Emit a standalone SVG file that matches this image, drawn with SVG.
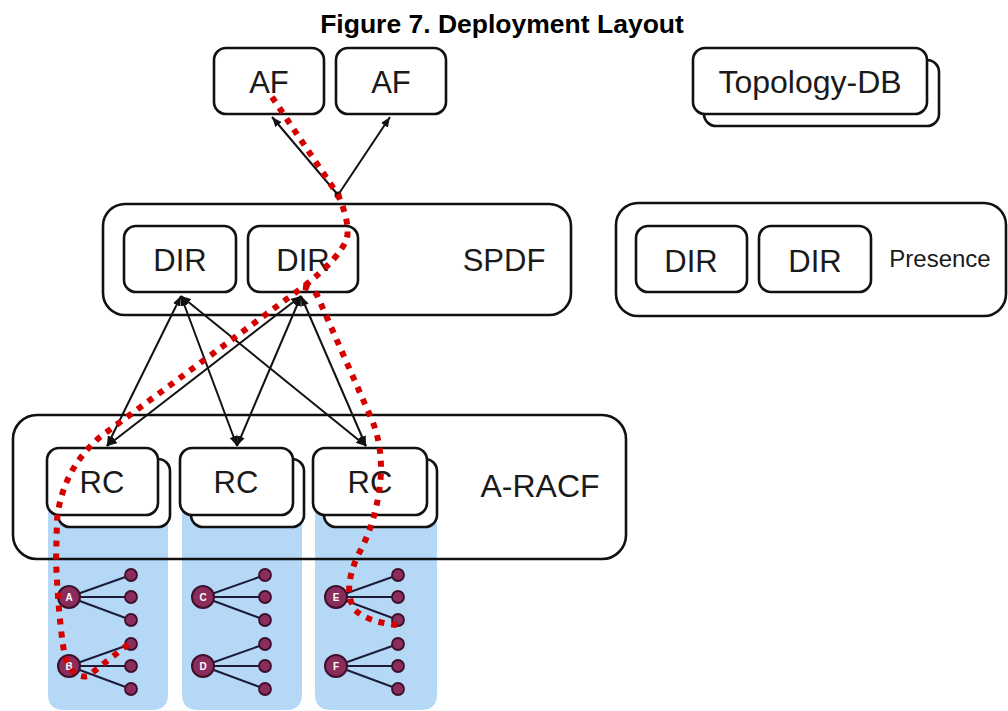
<svg xmlns="http://www.w3.org/2000/svg" width="1008" height="711" viewBox="0 0 1008 711">
  <defs>
    <style>
      .box { fill: #ffffff; stroke: #111111; stroke-width: 2.6; }
      .frame { fill: none; stroke: #111111; stroke-width: 2.6; }
      .lbl { font-family: "Liberation Sans", Arial, sans-serif; fill: #1a1a1a; text-anchor: middle; }
      .big { font-size: 31px; }
      .title { font-family: "Liberation Sans", Arial, sans-serif; font-weight: bold; font-size: 26.5px; fill: #000000; text-anchor: middle; }
      .lane { fill: #b5d8f6; }
      .edge { stroke: #1c1c38; stroke-width: 2; fill: none; }
      .root { fill: #8a2d5c; stroke: #3d0f2a; stroke-width: 2; }
      .leaf { fill: #8a2d5c; stroke: #3d0f2a; stroke-width: 1.8; }
      .tag { font-family: "Liberation Sans", Arial, sans-serif; font-weight: bold; font-size: 10px; fill: #ffffff; text-anchor: middle; }
      .link { stroke: #111111; stroke-width: 2; fill: none; }
      .route { stroke: #d40000; stroke-width: 6; fill: none; stroke-dasharray: 6 7; }
    </style>
    <marker id="head" viewBox="0 0 10 8" refX="10" refY="4" markerWidth="10" markerHeight="8" markerUnits="userSpaceOnUse" orient="auto-start-reverse">
      <path d="M0,0 L10,4 L0,8 z" fill="#111111"/>
    </marker>
    <!-- one subscriber tree: root at (0,0), three leaves to the right -->
    <g id="tree">
      <line class="edge" x1="0" y1="0" x2="62" y2="-22"/>
      <line class="edge" x1="0" y1="0" x2="62" y2="0"/>
      <line class="edge" x1="0" y1="0" x2="62" y2="23"/>
      <circle class="leaf" cx="62" cy="-22" r="6"/>
      <circle class="leaf" cx="62" cy="0" r="6"/>
      <circle class="leaf" cx="62" cy="23" r="6"/>
      <circle class="root" cx="0" cy="0" r="11"/>
    </g>
  </defs>

  <rect width="1008" height="711" fill="#ffffff"/>

  <text class="title" x="502" y="33">Figure 7. Deployment Layout</text>

  <!-- access lanes under the resource controllers -->
  <g id="lanes">
    <path class="lane" d="M48 470 H168 V694 Q168 710 152 710 H64 Q48 710 48 694 Z"/>
    <path class="lane" d="M182 470 H302 V694 Q302 710 286 710 H198 Q182 710 182 694 Z"/>
    <path class="lane" d="M315 470 H437 V694 Q437 710 421 710 H331 Q315 710 315 694 Z"/>
  </g>

  <g id="af1">
    <rect class="box" x="214" y="48" width="110" height="66" rx="12"/>
    <text class="lbl big" x="269" y="93">AF</text>
  </g>
  <g id="af2">
    <rect class="box" x="336" y="48" width="110" height="66" rx="12"/>
    <text class="lbl big" x="391" y="93">AF</text>
  </g>

  <g id="topology-db">
    <rect class="box" x="704" y="60" width="235" height="66" rx="12"/>
    <rect class="box" x="693" y="48" width="234" height="66" rx="12"/>
    <text class="lbl" x="810" y="93" font-size="32">Topology-DB</text>
  </g>

  <g id="spdf">
    <rect class="box" x="103" y="204" width="468" height="111" rx="22"/>
    <text class="lbl big" x="504" y="271">SPDF</text>
  </g>
  <g id="spdf-dir1">
    <rect class="box" x="124" y="226" width="112" height="66" rx="12"/>
    <text class="lbl big" x="180" y="271">DIR</text>
  </g>
  <g id="spdf-dir2">
    <rect class="box" x="248" y="226" width="110" height="66" rx="12"/>
    <text class="lbl big" x="303" y="271">DIR</text>
  </g>

  <g id="presence">
    <rect class="box" x="616" y="203" width="390" height="113" rx="22"/>
    <text class="lbl" x="940" y="267" font-size="24">Presence</text>
  </g>
  <g id="presence-dir1">
    <rect class="box" x="636" y="226" width="111" height="66" rx="12"/>
    <text class="lbl big" x="691" y="272">DIR</text>
  </g>
  <g id="presence-dir2">
    <rect class="box" x="759" y="226" width="112" height="66" rx="12"/>
    <text class="lbl big" x="815" y="272">DIR</text>
  </g>

  <g id="a-racf">
    <rect class="frame" x="13" y="415" width="613" height="144" rx="24"/>
    <text class="lbl" x="540" y="497" font-size="32">A-RACF</text>
  </g>
  <g id="rc1">
    <rect class="box" x="58" y="459" width="112" height="68" rx="12"/>
    <rect class="box" x="47" y="448" width="111" height="67" rx="12"/>
    <text class="lbl big" x="102" y="493">RC</text>
  </g>
  <g id="rc2">
    <rect class="box" x="191" y="459" width="113" height="68" rx="12"/>
    <rect class="box" x="180" y="448" width="113" height="67" rx="12"/>
    <text class="lbl big" x="236" y="493">RC</text>
  </g>
  <g id="rc3">
    <rect class="box" x="324" y="459" width="113" height="68" rx="12"/>
    <rect class="box" x="313" y="448" width="114" height="67" rx="12"/>
    <text class="lbl big" x="370" y="493">RC</text>
  </g>

  <g id="tree-a"><use href="#tree" x="69" y="597"/><text class="tag" x="69" y="601">A</text></g>
  <g id="tree-b"><use href="#tree" x="69" y="666"/><text class="tag" x="69" y="670">B</text></g>
  <g id="tree-c"><use href="#tree" x="203" y="597"/><text class="tag" x="203" y="601">C</text></g>
  <g id="tree-d"><use href="#tree" x="203" y="666"/><text class="tag" x="203" y="670">D</text></g>
  <g id="tree-e"><use href="#tree" x="336" y="597"/><text class="tag" x="336" y="601">E</text></g>
  <g id="tree-f"><use href="#tree" x="336" y="666"/><text class="tag" x="336" y="670">F</text></g>

  <g id="connectors">
    <line class="link" x1="338" y1="195" x2="272" y2="117" marker-end="url(#head)"/>
    <line class="link" x1="338" y1="195" x2="390" y2="117" marker-end="url(#head)"/>
    <circle cx="338" cy="195" r="3.5" fill="#111111"/>

    <line class="link" x1="181" y1="296" x2="107" y2="446" marker-start="url(#head)" marker-end="url(#head)"/>
    <line class="link" x1="181" y1="296" x2="237" y2="446" marker-start="url(#head)" marker-end="url(#head)"/>
    <line class="link" x1="181" y1="296" x2="366" y2="446" marker-start="url(#head)" marker-end="url(#head)"/>
    <line class="link" x1="301" y1="296" x2="107" y2="446" marker-start="url(#head)" marker-end="url(#head)"/>
    <line class="link" x1="301" y1="296" x2="237" y2="446" marker-start="url(#head)" marker-end="url(#head)"/>
    <line class="link" x1="301" y1="296" x2="366" y2="446" marker-start="url(#head)" marker-end="url(#head)"/>
  </g>

  <!-- signalling route drawn over everything -->
  <g id="route">
    <path class="route" d="M272 97 L338 195 Q350 222 347 238 Q340 258 303 287 L100 437 Q62 470 57 520 L56 560 Q58 610 63 645 Q68 680 88 676 L130 643"/>
    <path class="route" d="M303 287 Q312 288 317 295 L372 420 Q384 450 380 485 Q375 525 358 555 Q342 590 355 610 Q368 622 397 625"/>
  </g>
</svg>
